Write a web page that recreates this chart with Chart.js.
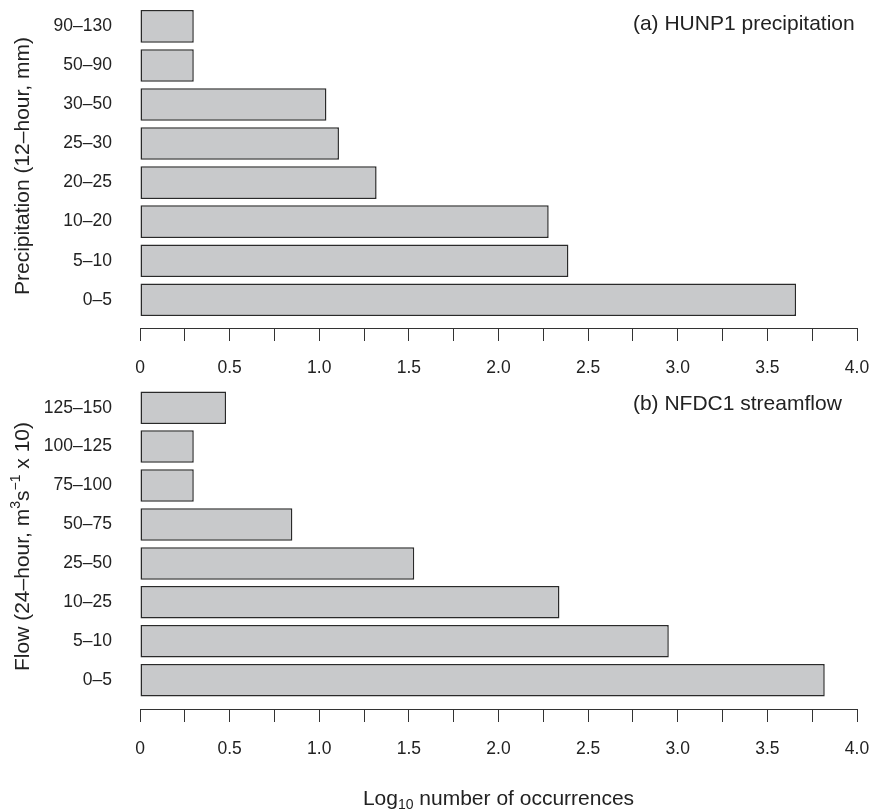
<!DOCTYPE html>
<html>
<head>
<meta charset="utf-8">
<title>Precipitation and streamflow occurrences</title>
<script src="https://cdn.jsdelivr.net/npm/chart.js@4.4.1/dist/chart.umd.min.js"></script>
<style>
  html, body { margin: 0; padding: 0; background: #fff; }
  #wrap { position: relative; width: 870px; height: 810px; overflow: hidden; }
  #wrap canvas { position: absolute; left: 0; }
  #precipChart { top: 0; }
  #flowChart { top: 380px; }
</style>
</head>
<body>
<div id="wrap">
  <canvas id="precipChart" width="870" height="386"></canvas>
  <canvas id="flowChart" width="870" height="430"></canvas>
</div>
<script>
// bins listed bottom to top, values are log10 of the counts
const precipBins = ['0–5', '5–10', '10–20', '20–25', '25–30', '30–50', '50–90', '90–130'];
const precipLog = [3.66, 2.39, 2.28, 1.32, 1.11, 1.04, 0.30, 0.30];

const flowBins = ['0–5', '5–10', '10–25', '25–50', '50–75', '75–100', '100–125', '125–150'];
const flowLog = [3.82, 2.95, 2.34, 1.53, 0.85, 0.30, 0.30, 0.48];

const FONT = '"Liberation Sans", Arial, Helvetica, sans-serif';
const INK = '#222';
const LINE = '#333';

// panel caption, left aligned at a value on the x scale
const panelLabel = {
    id: 'panelLabel',
    afterDraw(chart, args, opts) {
        const { ctx, chartArea } = chart;
        const x = chart.scales.x;
        ctx.save();
        ctx.font = '21px ' + FONT;
        ctx.fillStyle = INK;
        ctx.textAlign = 'left';
        ctx.textBaseline = 'middle';
        ctx.fillText(opts.text, x.getPixelForValue(opts.at), chartArea.top + opts.dy);
        ctx.restore();
    }
};

// axis titles with super/subscripts, drawn as runs of text
function drawRuns(ctx, runs, cx, cy, angle) {
    const big = '21px ' + FONT, small = '14px ' + FONT;
    let total = 0;
    runs.forEach(r => {
        ctx.font = r.sup || r.sub ? small : big;
        r.w = ctx.measureText(r.t).width;
        total += r.w;
    });
    ctx.save();
    ctx.translate(cx, cy);
    ctx.rotate(angle);
    ctx.fillStyle = INK;
    ctx.textAlign = 'left';
    ctx.textBaseline = 'alphabetic';
    let x = -total / 2;
    const base = 7.5;
    runs.forEach(r => {
        ctx.font = r.sup || r.sub ? small : big;
        const dy = r.sup ? -9 : r.sub ? 4 : 0;
        ctx.fillText(r.t, x, base + dy);
        x += r.w;
    });
    ctx.restore();
}

const richTitles = {
    id: 'richTitles',
    afterDraw(chart, args, opts) {
        const { ctx, chartArea } = chart;
        if (opts.y) {
            drawRuns(ctx, opts.y, 21.6, (chartArea.top + chartArea.bottom) / 2, -Math.PI / 2);
        }
        if (opts.x) {
            drawRuns(ctx, opts.x, (chartArea.left + chartArea.right) / 2, chart.height - 12.6, 0);
        }
    }
};

function makeChart(id, bins, values, cfg) {
    const ctx = document.getElementById(id).getContext('2d');
    return new Chart(ctx, {
        type: 'bar',
        data: {
            datasets: [{
                data: values.map((v, i) => ({ x: v, y: i })),
                backgroundColor: '#c8c9cb',
                borderColor: '#2a2a2a',
                borderWidth: 1.5,
                borderSkipped: false,
                categoryPercentage: 1,
                barPercentage: 0.835
            }]
        },
        options: {
            indexAxis: 'y',
            responsive: false,
            animation: false,
            events: [],
            layout: { padding: { top: 4, right: 13, left: 0, bottom: 0 } },
            plugins: {
                legend: { display: false },
                tooltip: { enabled: false },
                panelLabel: { text: cfg.caption, at: 2.75, dy: 20 },
                richTitles: { x: cfg.xRuns, y: cfg.yRuns }
            },
            scales: {
                x: {
                    type: 'linear',
                    min: 0,
                    max: 4,
                    afterFit: s => { s.height = cfg.xHeight; s.paddingLeft = 0; s.paddingRight = 0; },
                    ticks: {
                        stepSize: 0.25,
                        autoSkip: false,
                        maxRotation: 0,
                        padding: 17,
                        color: INK,
                        font: { family: FONT, size: 17.5 },
                        callback: v => {
                            if (Math.abs(v * 2 - Math.round(v * 2)) > 1e-9) return '';
                            return v === 0 ? '0' : v.toFixed(1);
                        }
                    },
                    grid: {
                        display: true,
                        drawOnChartArea: false,
                        drawTicks: true,
                        tickLength: 13,
                        color: LINE,
                        lineWidth: 1
                    },
                    border: { display: true, color: LINE, width: 1 }
                },
                y: {
                    type: 'linear',
                    offset: false,
                    min: cfg.yMin,
                    max: cfg.yMax,
                    afterFit: s => { s.width = 140; s.paddingTop = 0; s.paddingBottom = 0; },
                    afterBuildTicks: s => { s.ticks = bins.map((_, i) => ({ value: i })); },
                    ticks: {
                        padding: 28,
                        color: INK,
                        font: { family: FONT, size: 17.5 },
                        callback: v => bins[v]
                    },
                    grid: { display: false, drawTicks: false, offset: false },
                    border: { display: false }
                }
            }
        },
        plugins: [panelLabel, richTitles]
    });
}

makeChart('precipChart', precipBins, precipLog, {
    caption: '(a) HUNP1 precipitation',
    yRuns: [{ t: 'Precipitation (12–hour, mm)' }],
    yMin: -0.723,
    yMax: 7.573,
    xHeight: 58
});

makeChart('flowChart', flowBins, flowLog, {
    caption: '(b) NFDC1 streamflow',
    yRuns: [
        { t: 'Flow (24–hour, m' }, { t: '3', sup: true },
        { t: 's' }, { t: '−1', sup: true }, { t: ' x 10)' }
    ],
    xRuns: [{ t: 'Log' }, { t: '10', sub: true }, { t: ' number of occurrences' }],
    yMin: -0.739,
    yMax: 7.608,
    xHeight: 101
});
</script>
</body>
</html>
